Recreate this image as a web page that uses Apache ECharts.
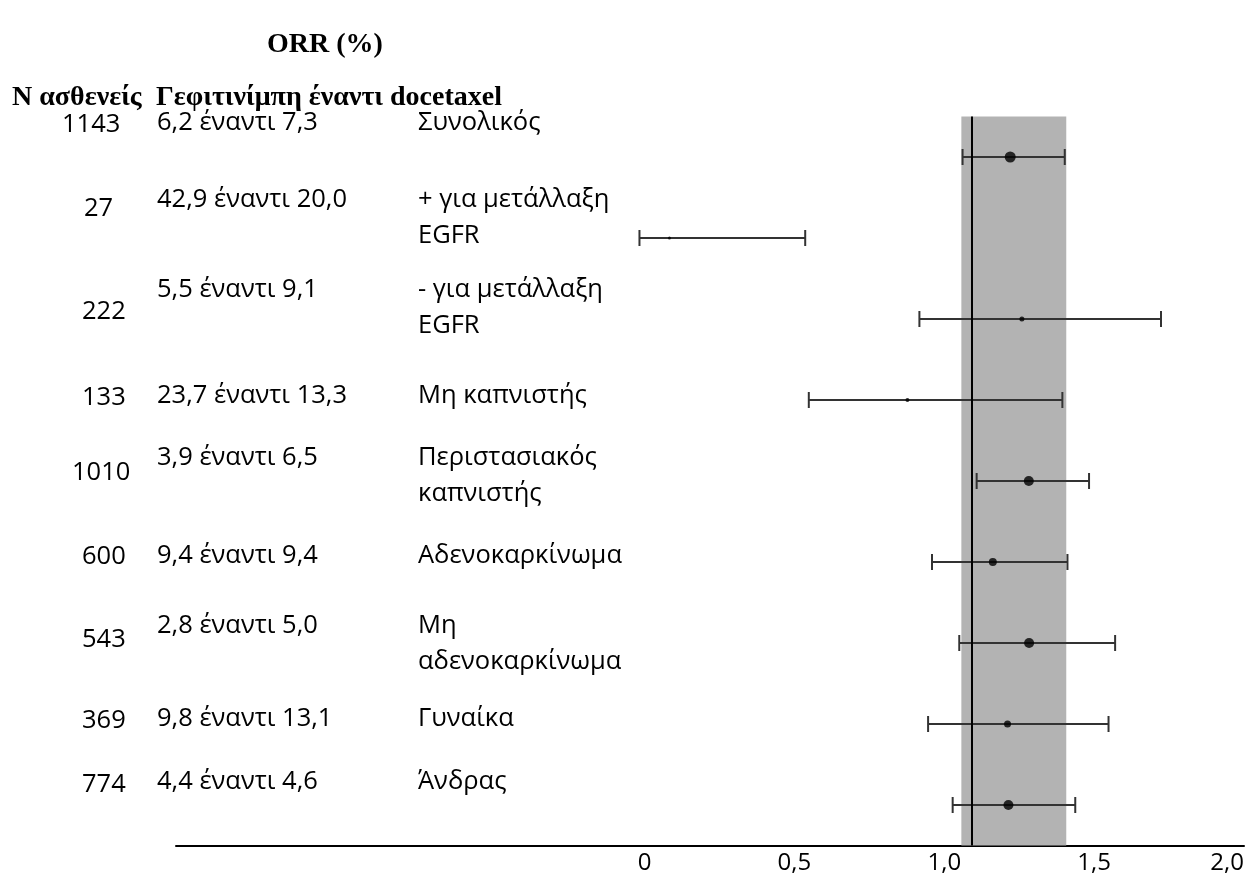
<!DOCTYPE html>
<html><head><meta charset="utf-8">
<script src="https://cdn.jsdelivr.net/npm/echarts@6/dist/echarts.min.js"></script>
<style>html,body{margin:0;padding:0;background:#fff}#c{width:1247px;height:876px}</style>
</head><body><div id="c"></div>
<script>
// ---- data ----
const subgroups = ['Συνολικός', '+ για μετάλλαξη\nEGFR', '- για μετάλλαξη\nEGFR', 'Μη καπνιστής',
  'Περιστασιακός\nκαπνιστής', 'Αδενοκαρκίνωμα', 'Μη\nαδενοκαρκίνωμα', 'Γυναίκα', 'Άνδρας'];
const nPatients = [1143, 27, 222, 133, 1010, 600, 543, 369, 774];
const orrGefitinib = [6.2, 42.9, 5.5, 23.7, 3.9, 9.4, 2.8, 9.8, 4.4];
const orrDocetaxel = [7.3, 20.0, 9.1, 13.3, 6.5, 9.4, 5.0, 13.1, 4.6];
const estimate = [1.22, 0.083, 1.259, 0.877, 1.282, 1.162, 1.283, 1.211, 1.214];
const lower    = [1.061, -0.017, 0.917, 0.548, 1.108, 0.959, 1.05, 0.946, 1.028];
const upper    = [1.402, 0.536, 1.723, 1.394, 1.483, 1.411, 1.57, 1.548, 1.437];
const refLine = 1.09;
const bandRange = [1.057, 1.407];
const xTicks = [0, 0.5, 1.0, 1.5, 2.0];

// ---- layout / style (not data) ----
const pointSize = [11, 3, 5, 4, 10, 8, 10, 7, 10];
const nLeft = [62, 84, 82, 82, 72, 82, 82, 82, 82];
const nY    = [125, 209, 312, 398, 473, 557, 640, 721, 785];
const txtY  = [123, 200, 290, 396, 458, 556, 626, 719, 782];
const SANS = '"Open Sans", "Noto Sans", sans-serif';
const BODY = '25.5px ' + SANS;
const HEAD = 'bold 28px "Liberation Serif", "DejaVu Serif", serif';

const fmt = v => v.toFixed(1).replace('.', ',');
const graphic = [];
graphic.push({type:'text', x:325, y:45, style:{text:'ORR (%)', font:HEAD, fill:'#000', align:'center', verticalAlign:'middle'}});
graphic.push({type:'text', x:12, y:98, style:{text:'Ν ασθενείς', font:HEAD, fill:'#000', verticalAlign:'middle'}});
graphic.push({type:'text', x:156, y:98, style:{text:'Γεφιτινίμπη έναντι docetaxel', font:HEAD, fill:'#000', verticalAlign:'middle'}});
for (let i = 0; i < subgroups.length; i++) {
  graphic.push({type:'text', x:nLeft[i], y:nY[i], style:{text:String(nPatients[i]), font:BODY, fill:'#000', verticalAlign:'middle'}});
  graphic.push({type:'text', x:157, y:txtY[i], style:{text:fmt(orrGefitinib[i]) + ' έναντι ' + fmt(orrDocetaxel[i]), font:BODY, fill:'#000', verticalAlign:'middle'}});
  subgroups[i].split('\n').forEach((ln, k) => {
    graphic.push({type:'text', x:418, y:txtY[i] + k * 36, style:{text:ln, font:BODY, fill:'#000', verticalAlign:'middle'}});
  });
}

const chart = echarts.init(document.getElementById('c'), null, {renderer:'canvas'});
chart.setOption({
  animation:false,
  backgroundColor:'#fff',
  grid:{left:176, right:2, top:116.5, bottom:30.5},
  xAxis:{
    type:'value', min:-1.5633, max:2.0,
    splitLine:{show:false},
    axisTick:{show:false},
    axisLine:{show:true, lineStyle:{color:'#000', width:2}},
    axisLabel:{customValues:xTicks, formatter:v => v === 0 ? '0' : fmt(v),
      fontFamily:SANS, fontSize:24, color:'#000', margin:6, alignMaxLabel:'right'}
  },
  yAxis:{type:'category', inverse:true, data:subgroups.map((s, i) => i), show:false,
    boundaryGap:true},
  graphic:graphic,
  series:[
    {
      type:'custom', z:3,
      data:subgroups.map((s, i) => [i, lower[i], upper[i]]),
      encode:{x:[1,2], y:0},
      renderItem:(params, api) => {
        const yi = api.value(0);
        const a = api.coord([api.value(1), yi]);
        const b = api.coord([api.value(2), yi]);
        const cap = 8;
        const st = {stroke:'#333', lineWidth:2};
        return {type:'group', children:[
          {type:'line', shape:{x1:a[0], y1:a[1], x2:b[0], y2:b[1]}, style:st},
          {type:'line', shape:{x1:a[0], y1:a[1]-cap, x2:a[0], y2:a[1]+cap}, style:st},
          {type:'line', shape:{x1:b[0], y1:b[1]-cap, x2:b[0], y2:b[1]+cap}, style:st}
        ]};
      },
      markArea:{silent:true, itemStyle:{color:'#b3b3b3'}, data:[[{xAxis:bandRange[0]}, {xAxis:bandRange[1]}]]},
      markLine:{silent:true, symbol:'none', label:{show:false}, lineStyle:{color:'#000', width:2, type:'solid'},
        data:[{xAxis:refLine}]}
    },
    {
      type:'scatter', z:4,
      data:estimate.map((v, i) => [v, i]),
      symbol:'circle',
      symbolSize:(val, p) => pointSize[p.dataIndex],
      itemStyle:{color:'#000'}
    }
  ]
});
</script></body></html>
